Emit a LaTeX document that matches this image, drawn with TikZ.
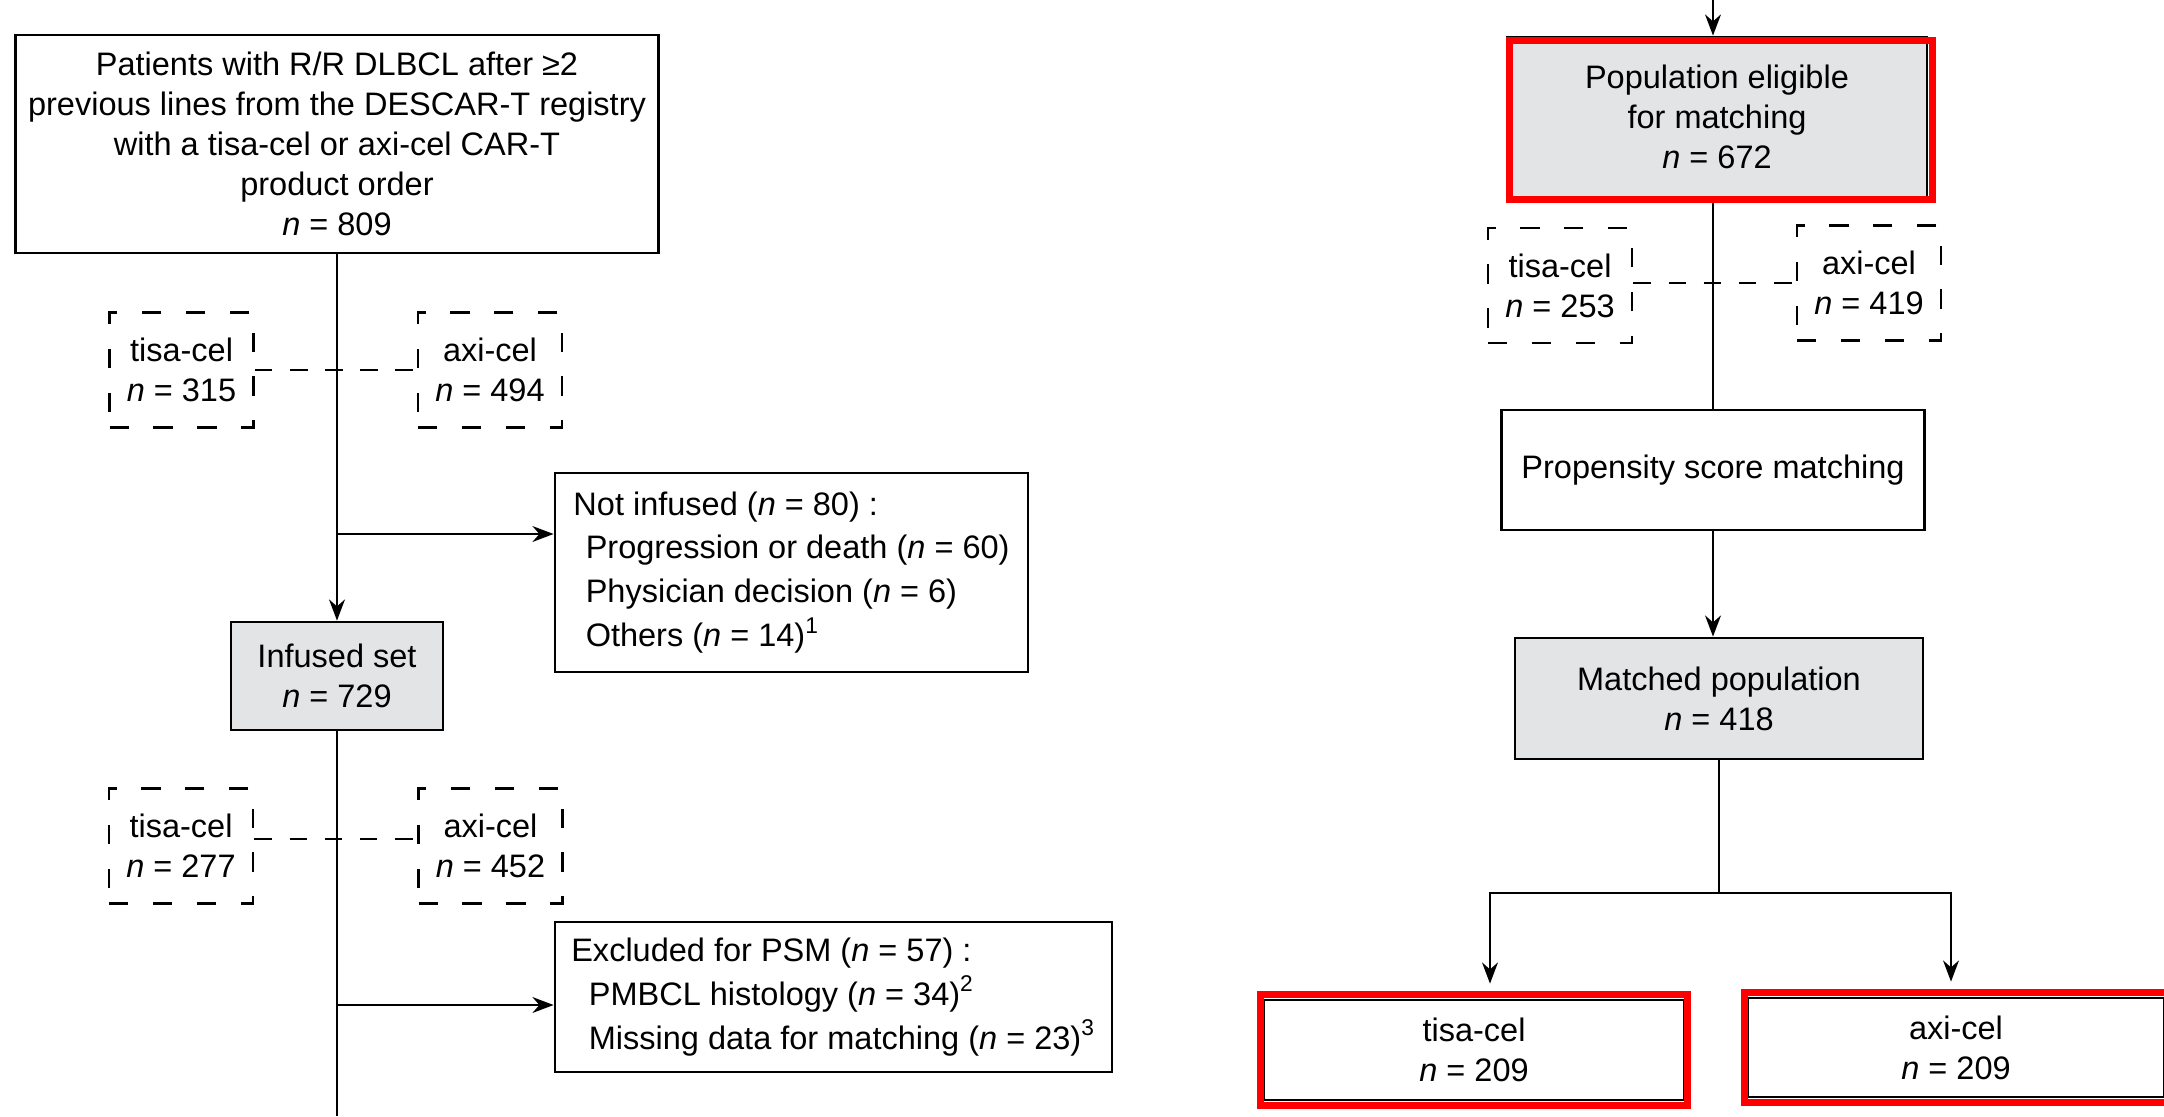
\documentclass[tikz,border=0pt]{standalone}
\usepackage{fontspec}
\setmainfont{Liberation Sans}
\usetikzlibrary{arrows.meta}
\definecolor{boxgray}{RGB}{227,228,230}

\begin{document}
\begin{tikzpicture}[
	every node/.style={font=\fontsize{9.25}{11.4}\selectfont, inner sep=0pt},
	solidbox/.style={draw, line width=0.8pt, align=center},
	graybox/.style={solidbox, fill=boxgray},
	listbox/.style={solidbox, align=left, font=\fontsize{9.25}{12.5}\selectfont},
	armbox/.style={draw, line width=0.8pt, dash pattern=on 5.5pt off 7pt, align=center, minimum width=1.44cm, minimum height=1.15cm},
	armlink/.style={line width=0.8pt, dash pattern=on 5pt off 5pt},
	link/.style={line width=0.8pt},
	flow/.style={line width=0.8pt, -{Stealth[length=6pt,width=4.5pt]}},
	hilite/.style={draw=red, line width=2pt}]
	\useasboundingbox (0,0) rectangle (21.64,-11.16);

	% left column
	\node[solidbox, minimum width=6.43cm, minimum height=2.18cm] (regist) at (3.37,-1.44) {Patients with R/R DLBCL after ≥2\\previous lines from the DESCAR-T registry\\with a tisa-cel or axi-cel CAR-T\\product order\\\textit{n} = 809};
	\node[armbox] (tisaA) at (1.815,-3.70) {tisa-cel\\\textit{n} = 315};
	\node[armbox] (axiA) at (4.90,-3.70) {axi-cel\\\textit{n} = 494};
	\node[listbox, minimum width=4.73cm, minimum height=1.99cm] (notinf) at (7.915,-5.725) {Not infused (\textit{n} = 80) :\\\hspace*{3.5pt}Progression or death (\textit{n} = 60)\\\hspace*{3.5pt}Physician decision (\textit{n} = 6)\\\hspace*{3.5pt}Others (\textit{n} = 14)\textsuperscript{1}};
	\node[graybox, minimum width=2.12cm, minimum height=1.08cm] (infused) at (3.37,-6.76) {Infused set\\\textit{n} = 729};
	\node[armbox] (tisaB) at (1.81,-8.46) {tisa-cel\\\textit{n} = 277};
	\node[armbox] (axiB) at (4.905,-8.46) {axi-cel\\\textit{n} = 452};
	\node[listbox, minimum width=5.57cm, minimum height=1.50cm] (exclud) at (8.335,-9.97) {Excluded for PSM (\textit{n} = 57) :\\\hspace*{5pt}PMBCL histology (\textit{n} = 34)\textsuperscript{2}\\\hspace*{5pt}Missing data for matching (\textit{n} = 23)\textsuperscript{3}};
	\coordinate (splitA) at (3.37,-5.34);
	\coordinate (splitB) at (3.37,-10.05);
	\coordinate (leftend) at (3.37,-11.16);

	\draw[flow] (regist.south) -- (infused.north);
	\draw[armlink] (tisaA.east) -- (axiA.west);
	\draw[flow] (splitA) -- (splitA -| notinf.west);
	\draw[link] (infused.south) -- (leftend);
	\draw[armlink] ([yshift=0.07cm]tisaB.east) -- ([yshift=0.07cm]axiB.west);
	\draw[flow] (splitB) -- (splitB -| exclud.west);

	% right column
	\coordinate (rightin) at (17.13,0);
	\node[graybox, minimum width=4.2cm, minimum height=1.60cm] (eligib) at (17.17,-1.17) {Population eligible\\for matching\\\textit{n} = 672};
	\node[armbox] (tisaC) at (15.6,-2.855) {tisa-cel\\\textit{n} = 253};
	\node[armbox] (axiC) at (18.69,-2.83) {axi-cel\\\textit{n} = 419};
	\node[solidbox, minimum width=4.23cm, minimum height=1.20cm] (propen) at (17.13,-4.70) {Propensity score matching};
	\node[graybox, minimum width=4.08cm, minimum height=1.21cm] (matched) at (17.19,-6.985) {Matched population\\\textit{n} = 418};
	\node[solidbox, minimum width=4.20cm, minimum height=1.00cm] (tisaD) at (14.74,-10.5) {tisa-cel\\\textit{n} = 209};
	\node[solidbox, minimum width=4.16cm, minimum height=0.99cm] (axiD) at (19.56,-10.475) {axi-cel\\\textit{n} = 209};
	\coordinate (fork) at (17.19,-8.93);
	\coordinate (forkL) at (14.90,-8.93);
	\coordinate (forkR) at (19.51,-8.93);

	\draw[flow] (rightin) -- (rightin |- eligib.north);
	\draw[link] (rightin |- eligib.south) -- (rightin |- propen.north);
	\draw[armlink] (tisaC.east |- axiC.west) -- (axiC.west);
	\draw[flow] (propen.south) -- (propen.south |- matched.north);
	\draw[link] (matched.south) -- (fork);
	\draw[flow, shorten >=0.15cm] (fork) -- (forkL) -- (forkL |- tisaD.north);
	\draw[flow, shorten >=0.15cm] (fork) -- (forkR) -- (forkR |- axiD.north);

	\draw[hilite] ([shift={(0.04,-0.05)}]eligib.north west) rectangle ([shift={(0.04,-0.01)}]eligib.south east);
	\draw[hilite] ([shift={(-0.02,0.04)}]tisaD.north west) rectangle ([shift={(0.02,-0.04)}]tisaD.south east);
	\draw[hilite] ([shift={(-0.02,0.04)}]axiD.north west) rectangle ([shift={(0.02,-0.04)}]axiD.south east);
\end{tikzpicture}
\end{document}
